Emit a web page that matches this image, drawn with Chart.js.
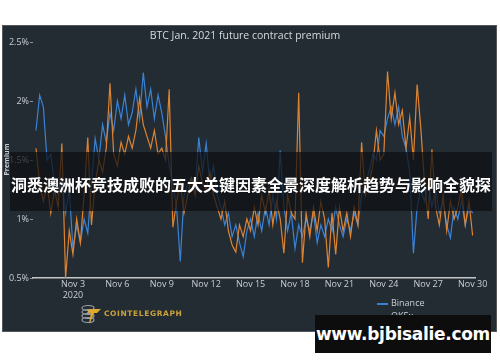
<!DOCTYPE html>
<html lang="en">

<head>
    <meta charset="UTF-8">
    <script src="https://cdn.jsdelivr.net/npm/chart.js"></script>
    <title>BTC Jan. 2021 future contract premium</title>
    <style>
        body { margin: 0; width: 500px; height: 362px; background: #fff; position: relative; overflow: hidden; font-family: "Open Sans", sans-serif; }
        .card { position: absolute; left: 2px; top: 25px; width: 495px; height: 307px; background: #242c33; border: 1px solid #55595d; box-sizing: border-box; }
        #grafico { position: absolute; left: 0; top: 0; }
        .titulo { position: absolute; left: 0; width: 490px; top: 28px; text-align: center; color: #d6dade; font-size: 10.5px; }
        .premium { position: absolute; left: -10px; top: 155px; transform: rotate(-90deg); color: #c9ced3; font-size: 7px; font-weight: bold; }
        .legenda { position: absolute; left: 377px; font-size: 9px; color: #c9ced3; }
        .legenda span { display: inline-block; width: 11px; height: 2px; margin-right: 3px; vertical-align: middle; }
        .logo { position: absolute; left: 80px; top: 303px; }
        .logo b { position: absolute; left: 24px; top: 6px; color: #c9a23b; font-size: 7.5px; letter-spacing: 0.6px; font-family: "DejaVu Sans", sans-serif; }
        .faixa { position: absolute; left: 10px; top: 152px; width: 482px; height: 59px; background: rgba(12, 14, 16, 0.72); }
        .faixa p { margin: 0; position: absolute; left: 0; top: 22px; width: 482px; text-align: center; color: #fff; font-weight: bold; font-size: 16px; line-height: 20px; font-family: "Noto Sans CJK SC", sans-serif; white-space: nowrap; }
        .marca { position: absolute; left: 315px; top: 315px; width: 176px; height: 38px; background: #0d0d0d; color: #fff; font-weight: bold; font-size: 17px; line-height: 38px; text-align: center; font-family: "DejaVu Sans", sans-serif; letter-spacing: -0.3px; }
    </style>
</head>

<body>
    <div class="card"></div>
    <canvas id="grafico" width="500" height="362"></canvas>
    <div class="titulo">BTC Jan. 2021 future contract premium</div>
    <div class="premium">Premium</div>
    <div class="logo">
        <svg width="22" height="22" viewBox="0 0 22 22">
            <ellipse cx="8" cy="5" rx="6" ry="2.5" fill="none" stroke="#9aa1a7" stroke-width="1.2" />
            <ellipse cx="8" cy="9" rx="6" ry="2.5" fill="none" stroke="#9aa1a7" stroke-width="1.2" />
            <ellipse cx="8" cy="13" rx="6" ry="2.5" fill="none" stroke="#9aa1a7" stroke-width="1.2" />
            <ellipse cx="8" cy="17" rx="6" ry="2.5" fill="none" stroke="#9aa1a7" stroke-width="1.2" />
            <path d="M9 6 L21 6 L17 10 L14 10 L10 20 L9 20 L11 10 L7 10 Z" fill="#e0a92c" />
        </svg>
        <b>COINTELEGRAPH</b>
    </div>
    <div class="legenda" style="top: 296px;"><span style="background:#3a82d6"></span>Binance</div>
    <div class="legenda" style="top: 309px;"><span style="background:#dd8433"></span>OKEx</div>
    <div class="faixa">
        <p>洞悉澳洲杯竞技成败的五大关键因素全景深度解析趋势与影响全貌探</p>
    </div>
    <div class="marca">www.bjbisalie.com</div>
</body>
<script>
    // one value every 6 hours, starting Oct 31 12:00 (day 0.5 of November)
    const diaInicio = 0.5;
    const passo = 0.25;

    const binance = [
        1.75, 2.05,
        1.95, 1.5, 1.55, 1.3,
        1.2, 1.35, 1.05, 1.25,
        0.75, 0.95, 0.8, 1.0,
        0.88, 1.3, 1.68, 1.5,
        1.8, 1.65, 1.9, 1.75,
        2.0, 1.85, 2.05, 1.8,
        1.9, 2.1, 1.85, 2.24,
        1.95, 2.1, 1.85, 2.05,
        1.9, 1.7, 1.45, 1.3,
        1.1, 0.64, 1.2, 1.3,
        1.35, 1.25, 1.69, 1.4,
        1.64, 1.3, 1.45, 1.2,
        1.1, 0.95, 1.05, 0.85,
        0.95, 0.8, 0.68, 0.9,
        1.0, 0.85, 1.05, 0.9,
        1.1, 0.95, 1.2, 1.0,
        1.58, 1.1, 0.9, 1.05,
        0.75, 0.95, 0.85, 1.0,
        0.9, 1.05, 0.8, 0.95,
        0.85, 1.0, 0.9, 1.1,
        0.95, 0.85, 1.0, 0.9,
        1.05, 0.95, 1.2, 1.3,
        1.4, 1.55, 1.5, 1.75,
        1.7, 1.85, 1.95, 1.8,
        1.95, 1.7, 1.6, 1.4,
        0.71, 1.1, 1.25, 1.15,
        1.3, 1.1, 1.25, 1.05,
        1.15, 0.95, 0.84, 1.1,
        1.0, 1.15, 0.95, 1.1,
        1.05
    ];

    const okex = [
        1.6, 1.3,
        1.15, 1.3, 1.05, 1.25,
        1.1, 1.64, 0.5, 0.9,
        0.7, 1.0, 0.8, 1.2,
        1.69, 0.95, 1.3, 1.5,
        1.4, 1.6, 2.15, 1.55,
        1.45, 1.65, 1.55, 1.7,
        1.6, 1.75, 2.02, 1.8,
        1.7, 1.6, 1.75, 1.55,
        1.6, 1.5, 2.1, 0.93,
        1.15, 1.3, 1.05, 1.2,
        1.35, 1.2, 1.45, 1.3,
        1.25, 1.4, 1.2, 1.1,
        1.0, 1.15, 0.9, 0.78,
        0.72, 0.95, 0.85, 1.0,
        0.9, 1.1, 0.95, 1.2,
        1.05, 1.25, 0.95, 1.15,
        1.0, 0.71, 1.2, 1.05,
        1.0, 2.07, 0.63, 1.05,
        0.85, 1.1, 0.9, 1.15,
        1.0, 0.59, 1.05, 0.7,
        1.1, 0.9, 1.05, 0.85,
        1.1, 0.95, 1.65, 1.2,
        1.3, 1.45, 1.75, 1.5,
        1.55, 2.25, 1.85, 2.07,
        1.8, 1.92, 1.6, 1.86,
        1.5, 2.14, 1.77, 1.3,
        1.0, 1.59, 1.1, 0.95,
        1.2, 0.9, 1.15, 1.0,
        1.1, 1.25, 0.95, 1.15,
        0.86
    ];

    const diasTicks = [3, 6, 9, 12, 15, 18, 21, 24, 27, 30];
    const rotulosX = [['Nov 3', '2020'], 'Nov 6', 'Nov 9', 'Nov 12', 'Nov 15', 'Nov 18', 'Nov 21', 'Nov 24', 'Nov 27', 'Nov 30'];
    const ticksY = [0.5, 1, 1.5, 2, 2.5];

    function pontos(valores) {
        return valores.map((v, i) => ({ x: diaInicio + i * passo, y: v }));
    }

    const corTexto = '#c9ced3';
    var ctx = document.getElementById('grafico').getContext('2d');
    var grafico = new Chart(ctx, {
        type: 'line',
        data: {
            datasets: [{
                label: 'OKEx',
                data: pontos(okex),
                borderColor: '#dd8433',
                borderWidth: 1.2,
                pointRadius: 0,
                tension: 0,
                order: 1
            }, {
                label: 'Binance',
                data: pontos(binance),
                borderColor: '#3a82d6',
                borderWidth: 1.2,
                pointRadius: 0,
                tension: 0,
                order: 2
            }]
        },
        options: {
            responsive: false,
            animation: false,
            devicePixelRatio: 1,
            layout: { padding: { left: 0, right: 25, top: 42, bottom: 0 } },
            plugins: { legend: { display: false }, tooltip: { enabled: false } },
            scales: {
                x: {
                    type: 'linear',
                    min: 0.3,
                    max: 30.16,
                    afterFit: (s) => { s.height = 84; },
                    afterBuildTicks: (s) => { s.ticks = diasTicks.map(d => ({ value: d })); },
                    ticks: {
                        color: corTexto,
                        font: { size: 9, family: 'Open Sans' },
                        padding: 1,
                        maxRotation: 0,
                        autoSkip: false,
                        callback: (v) => rotulosX[diasTicks.indexOf(v)]
                    },
                    grid: { display: false, drawTicks: false },
                    border: { display: true, color: '#c3c6c9', width: 1.5 }
                },
                y: {
                    min: 0.5,
                    max: 2.5,
                    afterFit: (s) => { s.width = 33; },
                    afterBuildTicks: (s) => { s.ticks = ticksY.map(v => ({ value: v })); },
                    ticks: {
                        color: corTexto,
                        font: { size: 9, family: 'Open Sans' },
                        padding: 1,
                        callback: (v) => v + '%'
                    },
                    grid: { drawOnChartArea: false, drawTicks: true, tickLength: 3, color: '#8b939b' },
                    border: { display: false }
                }
            }
        }
    });
</script>

</html>
